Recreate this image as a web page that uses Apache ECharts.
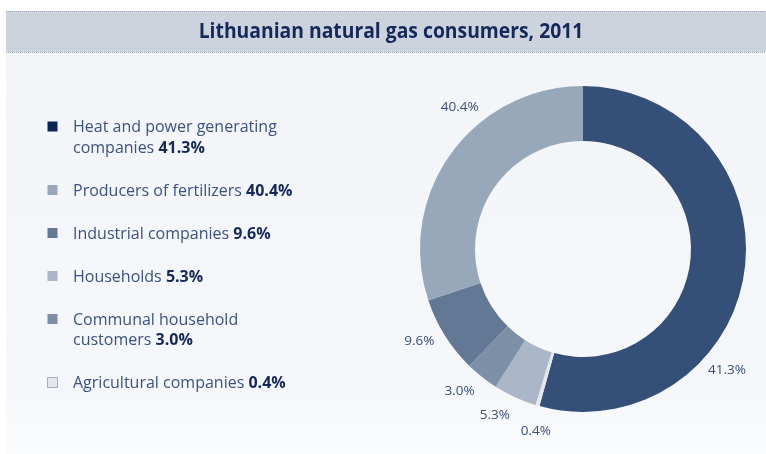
<!DOCTYPE html>
<html>
<head>
<meta charset="utf-8">
<script src="https://cdn.jsdelivr.net/npm/echarts@6/dist/echarts.min.js"></script>
<style>
html,body{margin:0;padding:0;background:#fff;}
#chart{width:766px;height:454px;}
</style>
</head>
<body>
<div id="chart"></div>
<script>
// ---- data ----
var titleText = 'Lithuanian natural gas consumers, 2011';
// legend order (as listed on the left)
var categories = ['Heat and power generating\ncompanies', 'Producers of fertilizers', 'Industrial companies', 'Households', 'Communal household\ncustomers', 'Agricultural companies'];
var shares = [41.3, 40.4, 9.6, 5.3, 3.0, 0.4];          // printed percentages
var sliceValues = [54.3, 30.1, 7.6, 4.3, 3.3, 0.4];     // slice sizes as drawn in the reference ring
var sliceColors = ['#344f78', '#98a8bb', '#637895', '#abb7c8', '#7e90a7', '#e4e8ee'];
var legendColors = ['#0c2558', '#98a7ba', '#647894', '#aab5c6', '#7d8ea6', '#e3e6ec'];
// clockwise drawing order of the ring, starting at 12 o'clock
var ringOrder = [0, 5, 3, 4, 2, 1];

// ---- layout ----
var W = 766, H = 454;
var cx = 583, cy = 249;
var labelR = 188;
var labelAngle = {0: 130, 1: 319, 2: 240.5, 3: 208, 4: 221, 5: 194.5}; // degrees clockwise from top

var chart = echarts.init(document.getElementById('chart'), null, {renderer: 'canvas'});

var pieData = ringOrder.map(function (i) {
  return {
    name: categories[i].replace('\n', ' '),
    value: sliceValues[i],
    share: shares[i],
    idx: i,
    itemStyle: {color: sliceColors[i]}
  };
});

var textColor = '#3b5282';
var boldColor = '#14295a';
var graphics = [];
// background panels
graphics.push({type: 'rect', left: 6, top: 52, z: -10, silent: true,
  shape: {width: W - 6, height: H - 52},
  style: {fill: new echarts.graphic.LinearGradient(0, 0, 0, 1, [{offset: 0, color: '#f3f5f8'}, {offset: 0.85, color: '#f6f7fa'}, {offset: 1, color: '#fbfcfd'}])}});
graphics.push({type: 'rect', left: 6, top: 11, z: -5, silent: true,
  shape: {width: W - 6, height: 41}, style: {fill: '#ccd3dd'}});
graphics.push({type: 'line', z: -4, silent: true, shape: {x1: 6, y1: 11.5, x2: W, y2: 11.5},
  style: {stroke: '#9ea7b6', lineWidth: 1, lineDash: [1, 1]}});
graphics.push({type: 'line', z: -4, silent: true, shape: {x1: 6, y1: 52.5, x2: W, y2: 52.5},
  style: {stroke: '#9ea7b6', lineWidth: 1, lineDash: [1, 1]}});
graphics.push({type: 'text', x: 391, y: 32, z: 5, silent: true, scaleX: 0.92,
  style: {text: titleText, fill: boldColor, fontFamily: 'Open Sans', fontSize: 21, fontWeight: 'bold',
    align: 'center', verticalAlign: 'middle'}});

// custom legend built from the arrays
var y = 121;
var lineH = 20.5;
for (var i = 0; i < categories.length; i++) {
  var lines = categories[i].split('\n');
  graphics.push({type: 'rect', silent: true, z: 5,
    shape: {x: 47.5, y: y + 0.5, width: 10, height: 10},
    style: {fill: legendColors[i], stroke: i === 5 ? '#a3aebf' : null, lineWidth: i === 5 ? 1 : 0}});
  var rt = lines.map(function (l, k) {
    return '{n|' + l + (k === lines.length - 1 ? ' ' : '') + '}' + (k === lines.length - 1 ? '{b|' + shares[i].toFixed(1) + '%}' : '');
  }).join('\n');
  graphics.push({type: 'text', silent: true, z: 5, x: 73, y: y - 3.5,
    style: {text: rt, verticalAlign: 'top', fill: textColor, fontFamily: 'Open Sans', fontSize: 16,
      rich: {
        n: {fontFamily: 'Open Sans', fontSize: 16, fill: textColor, lineHeight: lineH},
        b: {fontFamily: 'Open Sans', fontSize: 16, fontWeight: 'bold', fill: boldColor, lineHeight: lineH}
      }}});
  y += lines.length * lineH + 22.5;
}

var option = {
  backgroundColor: '#ffffff',
  animation: false,
  graphic: graphics,
  series: [{
    type: 'pie',
    center: [cx, cy],
    radius: [108, 163],
    startAngle: 90,
    clockwise: true,
    avoidLabelOverlap: false,
    silent: true,
    data: pieData,
    label: {
      show: true,
      position: 'outside',
      formatter: function (p) { return p.data.share.toFixed(1) + '%'; },
      fontFamily: 'Open Sans',
      fontSize: 13.5,
      color: '#3a4f7c'
    },
    labelLine: {show: false},
    labelLayout: function (params) {
      var d = pieData[params.dataIndex];
      var a = labelAngle[d.idx] * Math.PI / 180;
      return {x: cx + labelR * Math.sin(a), y: cy - labelR * Math.cos(a), align: 'center', verticalAlign: 'middle'};
    }
  }]
};
chart.setOption(option);
</script>
</body>
</html>
